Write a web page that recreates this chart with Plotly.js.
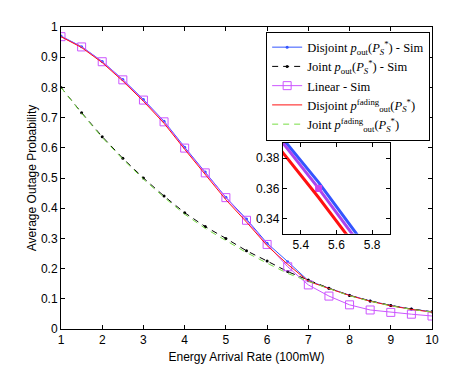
<!DOCTYPE html>
<html>
<head>
<meta charset="utf-8">
<script src="https://cdn.plot.ly/plotly-3.0.1.min.js"></script>
<style>
  body { margin: 0; background: #fff; }
  #chart { width: 471px; height: 371px; }
</style>
</head>
<body>
<div id="chart"></div>
<script>
// energy arrival rate (x 100mW)
var rate = [1, 1.5, 2, 2.5, 3, 3.5, 4, 4.5, 5, 5.5, 6, 6.5, 7, 7.5, 8, 8.5, 9, 9.5, 10];

var disjointSim = [0.970, 0.935, 0.886, 0.826, 0.760, 0.688, 0.602, 0.520, 0.436, 0.364, 0.284, 0.223, 0.160, 0.135, 0.112, 0.093, 0.078, 0.066, 0.057];
var jointSim    = [0.800, 0.716, 0.637, 0.565, 0.500, 0.440, 0.385, 0.339, 0.300, 0.259, 0.225, 0.190, 0.162, 0.135, 0.111, 0.093, 0.078, 0.066, 0.057];
var linearSim   = [0.968, 0.934, 0.885, 0.825, 0.758, 0.686, 0.599, 0.517, 0.435, 0.360, 0.280, 0.206, 0.146, 0.109, 0.080, 0.063, 0.055, 0.049, 0.043];
var disjointFad = [0.968, 0.932, 0.882, 0.821, 0.754, 0.681, 0.595, 0.512, 0.428, 0.354, 0.276, 0.214, 0.158, 0.134, 0.111, 0.092, 0.077, 0.065, 0.056];
var jointFad    = [0.800, 0.714, 0.634, 0.562, 0.496, 0.436, 0.380, 0.333, 0.293, 0.253, 0.218, 0.184, 0.158, 0.133, 0.110, 0.092, 0.077, 0.065, 0.056];

var xTicks = [1, 2, 3, 4, 5, 6, 7, 8, 9, 10];
var yTicks = [0, 0.1, 0.2, 0.3, 0.4, 0.5, 0.6, 0.7, 0.8, 0.9, 1];
var yTickText = ['0', '0.1', '0.2', '0.3', '0.4', '0.5', '0.6', '0.7', '0.8', '0.9', '1'];
var insetXTicks = [5.4, 5.6, 5.8];
var insetYTicks = [0.34, 0.36, 0.38];

var cBlue = '#3355ff', cRed = '#ff1111', cMag = '#cc55ff', cGreen = '#77dd44';

var data = [
    { x: rate, y: disjointSim, name: 'Disjoint <i>p</i><sub>out</sub>(<i>P</i><sub><i>S</i></sub><sup>*</sup>) - Sim',
      type: 'scatter', mode: 'lines+markers',
      line: {color: cBlue, width: 1}, marker: {color: cBlue, size: 3} },
    { x: rate, y: jointSim, name: 'Joint <i>p</i><sub>out</sub>(<i>P</i><sub><i>S</i></sub><sup>*</sup>) - Sim',
      type: 'scatter', mode: 'lines+markers',
      line: {color: '#000', width: 1, dash: '6px,5px'}, marker: {color: '#000', size: 3} },
    { x: rate, y: linearSim, name: 'Linear - Sim',
      type: 'scatter', mode: 'lines+markers',
      line: {color: cMag, width: 1},
      marker: {symbol: 'square-open', color: cMag, size: 8, line: {width: 1}} },
    { x: rate, y: disjointFad, name: 'Disjoint <i>p</i><sup>fading</sup><sub>out</sub>(<i>P</i><sub><i>S</i></sub><sup>*</sup>)',
      type: 'scatter', mode: 'lines',
      line: {color: cRed, width: 1} },
    { x: rate, y: jointFad, name: 'Joint <i>p</i><sup>fading</sup><sub>out</sub>(<i>P</i><sub><i>S</i></sub><sup>*</sup>)',
      type: 'scatter', mode: 'lines',
      line: {color: cGreen, width: 1, dash: '6px,5px'} },
    // zoomed inset
    { x: rate, y: disjointSim, xaxis: 'x2', yaxis: 'y2', type: 'scatter', mode: 'lines',
      showlegend: false, line: {color: cBlue, width: 3} },
    { x: rate, y: linearSim, xaxis: 'x2', yaxis: 'y2', type: 'scatter', mode: 'lines+markers',
      showlegend: false, line: {color: '#aa44ee', width: 3},
      marker: {symbol: 'square', color: '#cc44ee', size: 7} },
    { x: rate, y: disjointFad, xaxis: 'x2', yaxis: 'y2', type: 'scatter', mode: 'lines',
      showlegend: false, line: {color: cRed, width: 3} }
];

var axisStyle = {
    showline: true, linecolor: '#000', linewidth: 1, mirror: 'ticks',
    ticks: 'inside', ticklen: 4, tickcolor: '#000',
    showgrid: false, zeroline: false,
    tickfont: {family: 'Liberation Sans, Arial, sans-serif', size: 12, color: '#000'}
};

var layout = {
    width: 471,
    height: 371,
    margin: {l: 61, r: 39, t: 27, b: 42},
    paper_bgcolor: '#fff',
    plot_bgcolor: '#fff',
    showlegend: true,
    legend: {
        x: 0.995, y: 0.985, xanchor: 'right', yanchor: 'top',
        bgcolor: '#fff', bordercolor: '#000', borderwidth: 1,
        font: {family: 'Liberation Serif, Times New Roman, serif', size: 12.5, color: '#000'},
        tracegroupgap: 0, itemwidth: 30
    },
    xaxis: Object.assign({}, axisStyle, {
        range: [1, 10], tickvals: xTicks, domain: [0, 1],
        title: {text: 'Energy Arrival Rate (100mW)', standoff: 6,
                font: {family: 'Liberation Sans, Arial, sans-serif', size: 12, color: '#000'}}
    }),
    yaxis: Object.assign({}, axisStyle, {
        range: [0, 1], tickvals: yTicks, ticktext: yTickText,
        title: {text: 'Average Outage Probability', standoff: 1,
                font: {family: 'Liberation Sans, Arial, sans-serif', size: 12, color: '#000'}}
    }),
    xaxis2: Object.assign({}, axisStyle, {
        anchor: 'y2', domain: [0.598, 0.887], range: [5.3, 5.9], tickvals: insetXTicks
    }),
    yaxis2: Object.assign({}, axisStyle, {
        anchor: 'x2', domain: [0.315, 0.616], range: [0.33, 0.39], tickvals: insetYTicks
    })
};

Plotly.newPlot('chart', data, layout, {displayModeBar: false, staticPlot: true});
</script>
</body>
</html>
